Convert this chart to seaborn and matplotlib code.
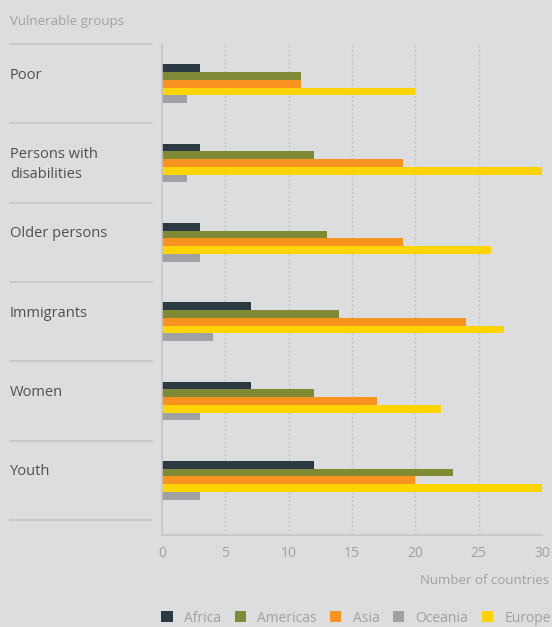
import pandas as pd
import matplotlib
matplotlib.use("Agg")
import matplotlib.pyplot as plt
import matplotlib.transforms as mtransforms
from matplotlib.patches import Patch
import seaborn as sns

# Data
groups = ['Poor', 'Persons with\ndisabilities', 'Older persons', 'Immigrants', 'Women', 'Youth']
africa = [3, 3, 3, 7, 7, 12]
americas = [11, 12, 13, 14, 12, 23]
asia = [11, 19, 19, 24, 17, 20]
europe = [20, 30, 26, 27, 22, 30]
oceania = [2, 2, 3, 4, 3, 3]

regions = ['Africa', 'Americas', 'Asia', 'Europe', 'Oceania']
legend_order = ['Africa', 'Americas', 'Asia', 'Oceania', 'Europe']
colors = {'Africa': '#2b3a42', 'Americas': '#808a35', 'Asia': '#f7931e',
          'Oceania': '#a0a1a5', 'Europe': '#ffd400'}

rows = []
for reg, vals in zip(regions, [africa, americas, asia, europe, oceania]):
    for g, v in zip(groups, vals):
        rows.append({'group': g, 'region': reg, 'value': v})
df = pd.DataFrame(rows)

bg = '#dcddde'
sns.set_style('white')
plt.rcParams['font.family'] = ['Open Sans', 'DejaVu Sans']

fig = plt.figure(figsize=(5.52, 6.27), dpi=100, facecolor=bg)
ax = fig.add_axes([162 / 552, 1 - 535 / 627, 380 / 552, 491 / 627])
ax.set_facecolor(bg)

sns.barplot(data=df, x='value', y='group', hue='region', hue_order=regions,
            order=groups, palette=colors, orient='h', width=0.49,
            saturation=1, ax=ax, legend=False, linewidth=0)

ax.set_xlim(0, 30)
ax.set_ylim(5.5 + 15 / 79.3, -0.5)
ax.set_xticks(range(0, 31, 5))
ax.set_yticks([])
ax.set_xlabel('')
ax.set_ylabel('')
ax.tick_params(axis='x', colors='#a0a1a5', labelsize=10, length=0, pad=8)
for lab in ax.get_xticklabels():
    lab.set_color('#a0a1a5')

for x in range(5, 31, 5):
    ax.axvline(x, color='#c4c5c7', linestyle=(0, (1.5, 1.5)), linewidth=1, zorder=0)

for s in ['top', 'right']:
    ax.spines[s].set_visible(False)
ax.spines['left'].set_color('#c4c5c7')
ax.spines['bottom'].set_color('#c4c5c7')
ax.spines['left'].set_linewidth(1.2)
ax.spines['bottom'].set_linewidth(1.2)

# separator lines and category labels on the left
trans = mtransforms.blended_transform_factory(ax.transAxes, ax.transData)
x0 = (10 - 162) / 380
x1 = (152 - 162) / 380
for i in range(len(groups) + 1):
    ax.plot([x0, x1], [i - 0.5, i - 0.5], transform=trans, color='#c4c5c7',
            linewidth=1.2, clip_on=False)
for i, g in enumerate(groups):
    ax.text(x0, i - 0.5 + 0.30, g, transform=trans, ha='left', va='top',
            fontsize=10.5, color='#505050', linespacing=1.4)

fig.text(10 / 552, 1 - 22 / 627, 'Vulnerable groups', ha='left', va='center',
         fontsize=9.5, color='#a0a1a5')
fig.text(549 / 552, 1 - 580 / 627, 'Number of countries', ha='right', va='center',
         fontsize=9.5, color='#a0a1a5')

handles = [Patch(facecolor=colors[r], edgecolor='none', label=r) for r in legend_order]
leg = fig.legend(handles=handles, loc='lower left', ncol=5,
                 bbox_to_anchor=(160 / 552, 0.0), frameon=False,
                 borderaxespad=0.0, borderpad=0.1,
                 handlelength=0.8, handleheight=0.8, handletextpad=0.8,
                 columnspacing=1.0, fontsize=10)
for t in leg.get_texts():
    t.set_color('#a0a1a5')

fig.savefig('out.png', dpi=100, facecolor=bg)
